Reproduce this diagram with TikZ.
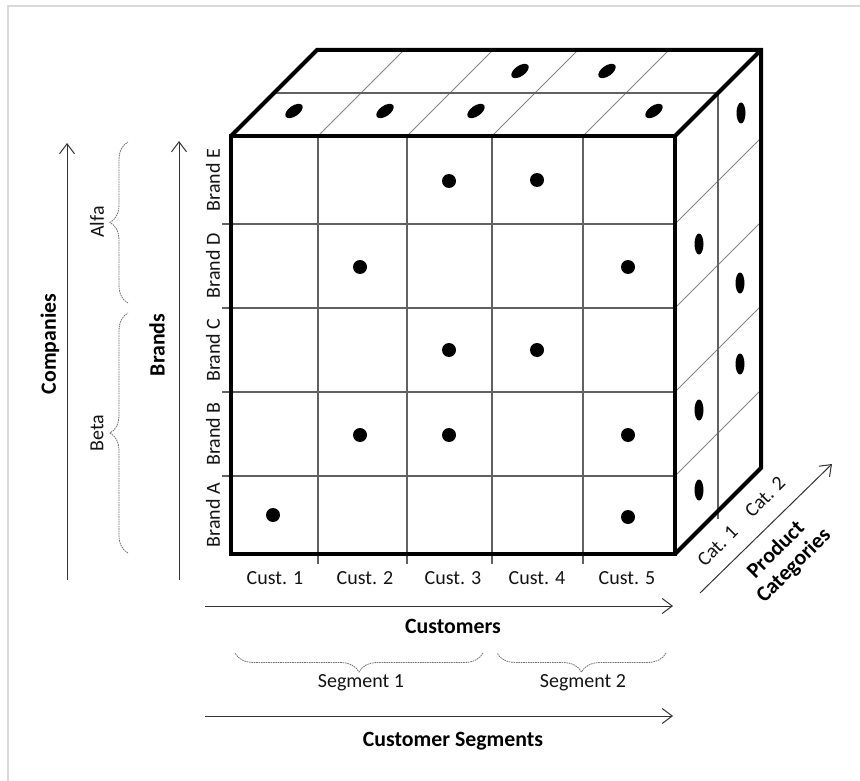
\documentclass[tikz,border=0pt]{standalone}
\usepackage{fontspec}
\setmainfont{Carlito}
\usetikzlibrary{arrows.meta,shapes.geometric,decorations.pathreplacing}

\begin{document}
\begin{tikzpicture}[x=1pt,y=-1pt,
  thickedge/.style={line width=4pt, line join=miter},
  gridline/.style={line width=1.1pt, draw=black!62},
  depthline/.style={line width=0.9pt, draw=black!48},
  frontdot/.style={circle, fill=black, minimum size=14pt, inner sep=0pt},
  topdot/.style={ellipse, fill=black, minimum width=20pt, minimum height=10.5pt, inner sep=0pt, rotate=35},
  sidedot/.style={ellipse, fill=black, minimum width=9pt, minimum height=21pt, inner sep=0pt},
  lbl/.style={font=\fontsize{20}{24}\selectfont, text=black!92, inner sep=0pt},
  heading/.style={font=\fontsize{21.8}{26}\selectfont\bfseries, text=black, inner sep=0pt},
  axisarrow/.style={line width=1pt, draw=black!80, -{Straight Barb[length=10pt,width=15pt]}},
  bracket/.style={draw=black!55, line width=0.8pt, dash pattern=on 1.6pt off 0.8pt, decorate},
]
\useasboundingbox (0,0) rectangle (860,781);
\fill[white] (0,0) rectangle (860,781);

% page frame
\draw[black!15, line width=1.5pt] (8,781) -- (8,6) -- (860,6);

% ---------- cube: inner grid ----------
% front face
\foreach \x in {318,407,492,583}
  \draw[gridline] (\x,136) -- (\x,564);
\foreach \y in {224,308,392,476}
  \draw[gridline] (222,\y) -- (675,\y);
% top face
\foreach \x in {318,407,492,583}
  \draw[depthline] (\x,136) -- (\x+86,50);
\draw[gridline] (274,93) -- (718,93);
% right face
\foreach \y in {224,308,392,476}
  \draw[depthline] (675,\y) -- (761,\y-86);
\draw[gridline] (718,93) -- (718,519);

% ---------- cube: outline ----------
\draw[thickedge] (231,136) rectangle (675,554);
\draw[thickedge] (231,136) -- (317,50) -- (761,50) -- (761,468) -- (675,554);
\draw[thickedge] (675,136) -- (761,50);

% ---------- data points ----------
\node[frontdot] (e3) at (449,181) {};
\node[frontdot] (e4) at (537,180) {};
\node[frontdot] (d2) at (360,267) {};
\node[frontdot] (d5) at (628,267) {};
\node[frontdot] (c3) at (449,350) {};
\node[frontdot] (c4) at (537,350) {};
\node[frontdot] (b2) at (360,435) {};
\node[frontdot] (b3) at (449,435) {};
\node[frontdot] (b5) at (628,435) {};
\node[frontdot] (a1) at (273,515) {};
\node[frontdot] (a5) at (628,517) {};

\node[topdot] (t1) at (294,111) {};
\node[topdot] (t2) at (385,111) {};
\node[topdot] (t3) at (476,111) {};
\node[topdot] (t5) at (654,111) {};
\node[topdot] (u3) at (520,71) {};
\node[topdot] (u4) at (607,71) {};

\node[sidedot] (sD) at (699,244) {};
\node[sidedot] (sB) at (699,410) {};
\node[sidedot] (sA) at (699,490) {};
\node[sidedot] (rE) at (741,113) {};
\node[sidedot] (rC) at (740,283) {};
\node[sidedot] (rB) at (740,364) {};

% ---------- brand labels ----------
\node[lbl, rotate=90] (brandA) at (213,515) {Brand A};
\node[lbl, rotate=90] (brandB) at (213,434) {Brand B};
\node[lbl, rotate=90] (brandC) at (213,350) {Brand C};
\node[lbl, rotate=90] (brandD) at (213,266) {Brand D};
\node[lbl, rotate=90] (brandE) at (213,180) {Brand E};

% ---------- customer labels ----------
\node[lbl] (cust1) at (275,578) {Cust. 1};
\node[lbl] (cust2) at (365,578) {Cust. 2};
\node[lbl] (cust3) at (453,578) {Cust. 3};
\node[lbl] (cust4) at (537,578) {Cust. 4};
\node[lbl] (cust5) at (627,578) {Cust. 5};

% ---------- category labels ----------
\node[lbl, rotate=45] (cat1) at (717.5,546) {Cat. 1};
\node[lbl, rotate=45] (cat2) at (765,497) {Cat. 2};

% ---------- axes ----------
\coordinate (compLo) at (67,580);
\coordinate (compHi) at (67,143);
\coordinate (brLo) at (179,580);
\coordinate (brHi) at (179,141);
\coordinate (custL) at (205,606);
\coordinate (custR) at (673,606);
\coordinate (segL) at (205,716);
\coordinate (segR) at (673,716);
\coordinate (catLo) at (700,593);
\coordinate (catHi) at (832,464);
\draw[axisarrow] (compLo) -- (compHi);
\draw[axisarrow] (brLo) -- (brHi);
\draw[axisarrow] (custL) -- (custR);
\draw[axisarrow] (segL) -- (segR);
\draw[axisarrow] (catLo) -- (catHi);

\node[heading, rotate=90] (companies) at (50,344) {Companies};
\node[heading, rotate=90] (brands) at (157,345) {Brands};
\node[heading] (customers) at (453,626) {Customers};
\node[heading] (custseg) at (453,741) {Customer Segments};
\node[heading, rotate=45] (product) at (775,549) {Product};
\node[heading, rotate=45] (categories) at (794,566) {Categories};

% ---------- groupings ----------
\coordinate (alfaLo) at (128,303);
\coordinate (alfaHi) at (128,142);
\coordinate (betaLo) at (128,553);
\coordinate (betaHi) at (128,313);
\coordinate (seg1R) at (483,653);
\coordinate (seg1L) at (235,653);
\coordinate (seg2R) at (666,653);
\coordinate (seg2L) at (497,653);
\draw[bracket, decoration={brace, amplitude=18pt}] (alfaLo) -- (alfaHi);
\draw[bracket, decoration={brace, amplitude=18pt}] (betaLo) -- (betaHi);
\draw[bracket, decoration={brace, amplitude=19pt}] (seg1R) -- (seg1L);
\draw[bracket, decoration={brace, amplitude=19pt}] (seg2R) -- (seg2L);

\node[lbl, rotate=90] (alfa) at (97,222) {Alfa};
\node[lbl, rotate=90] (beta) at (97,433) {Beta};
\node[lbl] (seg1) at (361,683) {Segment 1};
\node[lbl] (seg2) at (583,683) {Segment 2};

\end{tikzpicture}
\end{document}
